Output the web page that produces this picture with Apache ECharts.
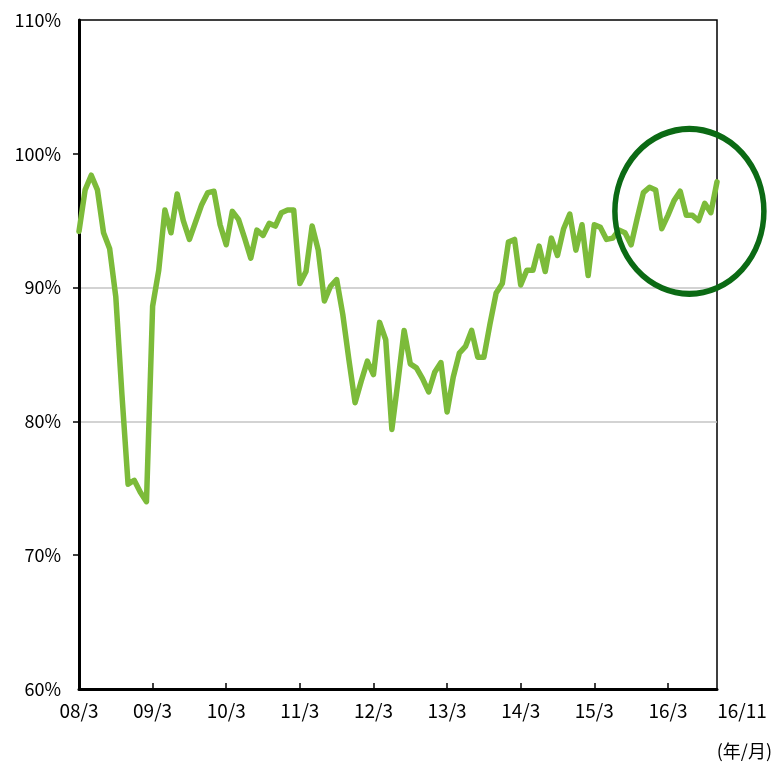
<!DOCTYPE html>
<html>
<head>
<meta charset="utf-8">
<script src="https://cdn.jsdelivr.net/npm/echarts@6/dist/echarts.min.js"></script>
<style>
  html, body { margin: 0; padding: 0; background: #fff; }
  #chart { width: 776px; height: 763px; }
</style>
</head>
<body>
<div id="chart"></div>
<script>
// Monthly ratio, 2008/3 – 2016/11 (percent)
var startYear = 8, startMonth = 3, monthCount = 105;
var months = [];
for (var k = 0; k < monthCount; k++) {
  var m = startMonth - 1 + k;
  var yy = startYear + Math.floor(m / 12);
  months.push((yy < 10 ? '0' + yy : '' + yy) + '/' + (m % 12 + 1));
}

var ratio = [
  94.2, 97.3, 98.4, 97.3, 94.1, 92.9, 89.3, 82.0, 75.3, 75.6, 74.7, 74.0,   // 08/3 - 09/2
  88.6, 91.3, 95.8, 94.1, 97.0, 95.0, 93.6, 94.9, 96.2, 97.1, 97.2, 94.7,   // 09/3 - 10/2
  93.2, 95.7, 95.1, 93.7, 92.2, 94.3, 93.9, 94.8, 94.6, 95.6, 95.8, 95.8,   // 10/3 - 11/2
  90.3, 91.2, 94.6, 92.8, 89.0, 90.1, 90.6, 88.0, 84.6, 81.4, 83.0, 84.5,   // 11/3 - 12/2
  83.5, 87.4, 86.1, 79.4, 83.0, 86.8, 84.3, 84.0, 83.2, 82.2, 83.7, 84.4,   // 12/3 - 13/2
  80.7, 83.3, 85.1, 85.6, 86.8, 84.8, 84.8, 87.3, 89.6, 90.3, 93.4, 93.6,   // 13/3 - 14/2
  90.2, 91.3, 91.3, 93.1, 91.2, 93.7, 92.4, 94.4, 95.5, 92.8, 94.7, 90.9,   // 14/3 - 15/2
  94.7, 94.5, 93.6, 93.7, 94.3, 94.1, 93.2, 95.2, 97.1, 97.5, 97.3, 94.4,   // 15/3 - 16/2
  95.4, 96.5, 97.2, 95.4, 95.4, 95.0, 96.3, 95.6, 97.9                      // 16/3 - 16/11
];

var yTicks = [70, 80, 90, 100];
var lastIndex = monthCount - 1;
var highlight = { index: 99.5, value: 95.7 };   // centre of the ring around recent months

var FONT = '"Noto Sans CJK JP", "Noto Sans", sans-serif';

var chart = echarts.init(document.getElementById('chart'), null, { renderer: 'canvas' });

chart.setOption({
  animation: false,
  backgroundColor: '#ffffff',
  grid: {
    left: 79, right: 59, top: 20, bottom: 74,
    show: true, borderColor: '#000', borderWidth: 1.5, backgroundColor: 'transparent'
  },
  xAxis: {
    type: 'category',
    data: months,
    boundaryGap: false,
    axisLine: { lineStyle: { color: '#000', width: 3 } },
    axisTick: {
      inside: true, length: 6,
      interval: function (i) { return i % 12 === 0 && i > 0; },
      lineStyle: { color: '#000', width: 1.5 }
    },
    axisLabel: {
      interval: function (i) { return i % 12 === 0 || i === lastIndex; },
      color: '#000', fontFamily: FONT, fontSize: 19, margin: 12,
      formatter: function (v, i) { return i === lastIndex ? '{last|' + v + '}' : v; },
      rich: { last: { padding: [0, 0, 0, 50], fontFamily: FONT, fontSize: 19, color: '#000' } }
    },
    splitLine: { show: false }
  },
  yAxis: {
    type: 'value',
    min: 60, max: 110, interval: 10,
    axisLine: { show: true, lineStyle: { color: '#000', width: 3 } },
    axisTick: { show: true, length: 6, customValues: yTicks, lineStyle: { color: '#000', width: 1.5 } },
    axisLabel: {
      color: '#000', fontFamily: FONT, fontSize: 18, margin: 18,
      formatter: function (v) { return v + '%'; }
    },
    splitLine: { show: true, showMinLine: false, showMaxLine: false, lineStyle: { color: '#c4c4c4', width: 1.5 } }
  },
  series: [{
    type: 'line',
    data: ratio,
    symbol: 'none',
    smooth: false,
    lineStyle: { color: '#7CBB3A', width: 5.5, join: 'round', cap: 'round' },
    z: 3
  }]
});

// Ring drawn around the most recent months, placed through the axes
function placeRing() {
  var a = chart.convertToPixel({ seriesIndex: 0 }, [Math.floor(highlight.index), highlight.value]);
  var b = chart.convertToPixel({ seriesIndex: 0 }, [Math.ceil(highlight.index), highlight.value]);
  var cx = (a[0] + b[0]) / 2, cy = a[1];
  var rx = 74.5, ry = 82.5;
  chart.setOption({
    graphic: [
      {
        type: 'circle',
        x: cx, y: cy,
        scaleX: 1, scaleY: ry / rx,
        shape: { cx: 0, cy: 0, r: rx },
        style: { fill: 'none', stroke: '#0B6A14', lineWidth: 5.5, strokeNoScale: true },
        z: 10
      },
      {
        type: 'text',
        right: 4, bottom: 3,
        style: { text: '(年/月)', fill: '#000', font: '18px ' + FONT },
        z: 10
      }
    ]
  });
}
placeRing();
</script>
</body>
</html>
